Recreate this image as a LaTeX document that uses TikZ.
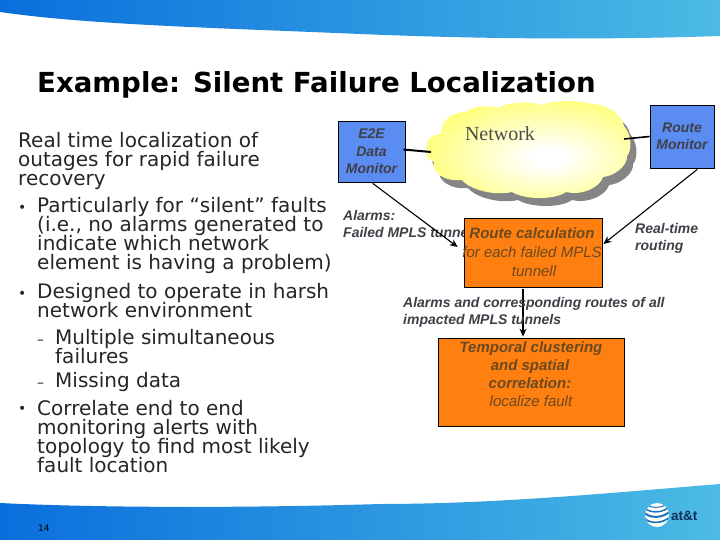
\documentclass[tikz,border=0pt]{standalone}
\usepackage{fontspec}
\setmainfont{DejaVu Sans}
\newfontfamily\arialf{Liberation Sans}
\newfontfamily\timesf{Liberation Serif}
\usetikzlibrary{arrows.meta,calc}
\normallineskiplimit=-20pt
\lineskiplimit=-20pt
\definecolor{bandL}{HTML}{0A6EDC}
\definecolor{bandR}{HTML}{4CBBE4}
\definecolor{boxblue}{HTML}{5B8CF2}
\definecolor{boxorange}{HTML}{FF7F10}
\definecolor{labgray}{HTML}{3F3F48}
\definecolor{orangetxt}{HTML}{6A4A1E}
\definecolor{cloudY}{HTML}{FFFF78}
\definecolor{shadowG}{HTML}{858585}
\definecolor{bodyc}{HTML}{262626}
\definecolor{attnavy}{HTML}{10305A}
\definecolor{globeblue}{HTML}{1E6FB8}
\pgfdeclareradialshading{cloudshade}{\pgfpoint{5bp}{-4bp}}{color(0bp)=(white); color(4bp)=(white); color(30bp)=(cloudY); color(100bp)=(cloudY)}
\tikzset{
  x=1pt,y=-1pt,
  bodytext/.style={anchor=base west,inner sep=0pt,align=left,font=\fontsize{20}{19}\selectfont,text=bodyc},
  bluebox/.style={draw=black,line width=0.7pt,fill=boxblue,inner sep=0pt,align=center,text=labgray,font=\arialf\fontsize{14}{17.5}\selectfont\bfseries\itshape},
  orangebox/.style={draw=black,line width=0.7pt,fill=boxorange,inner sep=0pt},
  lab/.style={anchor=base west,inner sep=0pt,align=left,text=labgray,font=\arialf\fontsize{14}{17}\selectfont\bfseries\itshape},
  otxt/.style={anchor=base,inner sep=0pt,text=orangetxt,font=\arialf\fontsize{15}{18}\selectfont\bfseries\itshape},
  otxtl/.style={anchor=base,inner sep=0pt,text=orangetxt,font=\arialf\fontsize{15}{18}\selectfont\itshape},
  thickln/.style={line width=2pt,black},
  arr/.style={line width=1.1pt,black,-{Stealth[length=8pt,width=7pt]}},
  bul/.style={anchor=base west,inner sep=0pt,text=bodyc,font=\fontsize{14}{14}\selectfont},
}
\newcommand{\cloudpath}{
 (427,150) .. controls (425,140) and (432,134) .. (441,134)
 .. controls (441,122) and (450,112) .. (466,112)
 .. controls (472,106) and (490,105) .. (498,108)
 .. controls (508,102) and (530,101) .. (542,105)
 .. controls (552,100) and (580,100) .. (592,104)
 .. controls (608,105) and (622,115) .. (624,126)
 .. controls (632,135) and (632,150) .. (627,156)
 .. controls (628,165) and (615,176) .. (603,177)
 .. controls (600,188) and (580,196) .. (566,192)
 .. controls (555,200) and (525,200) .. (512,192)
 .. controls (495,196) and (470,190) .. (462,180)
 .. controls (445,182) and (430,172) .. (434,162)
 .. controls (428,160) and (425,155) .. (427,150) -- cycle}
\begin{document}
\begin{tikzpicture}
\useasboundingbox (0,0) rectangle (720,540);
\fill[white] (0,0) rectangle (720,540);
% bands
\path[left color=bandL,right color=bandR]
  (0,0) -- (720,0) -- (720,36) .. controls (600,40) and (480,39) .. (360,34) .. controls (220,28) and (90,25) .. (0,12) -- cycle;
\path[left color=bandL,right color=bandR]
  (0,540) -- (720,540) -- (720,484) .. controls (620,492) and (500,504) .. (380,504) .. controls (250,508) and (100,508) .. (0,503) -- cycle;
% title
\node[anchor=base west,inner sep=0pt,font=\fontsize{27.6}{27.6}\selectfont\bfseries] (title) at (37,93) {Example: Silent Failure Localization};
% body (a many-line node is placed by the baseline of its last line)
\node[bodytext] (b1) at (18,186) {Real time localization of\\outages for rapid failure\\recovery};
\node[bul] (bu1) at (18,213) {•};
\node[bodytext] (b2) at (37,269) {Particularly for “silent” faults\\(i.e., no alarms generated to\\indicate which network\\element is having a problem)};
\node[bul] (bu2) at (18,298) {•};
\node[bodytext] (b3) at (37,317) {Designed to operate in harsh\\network environment};
\node[bul] (da1) at (37,344) {–};
\node[bodytext] (b4) at (55,363) {Multiple simultaneous\\failures};
\node[bul] (da2) at (37,387) {–};
\node[bodytext] (b5) at (55,387) {Missing data};
\node[bul] (bu3) at (18,413) {•};
\node[bodytext] (b6) at (37,472) {Correlate end to end\\monitoring alerts with\\topology to find most likely\\fault location};
\node[anchor=base west,inner sep=0pt,font=\fontsize{9}{9}\selectfont] (pg) at (38,531) {14};
% cloud
\fill[shadowG,xshift=6pt,yshift=-8pt] \cloudpath;
\path[shading=cloudshade] \cloudpath;
\node[anchor=base,inner sep=0pt,font=\timesf\fontsize{20}{20}\selectfont,text=black!70] (net) at (500,141) {Network};
\coordinate (cloudW) at (431,152);
\coordinate (cloudE) at (624,139);
% labels under the boxes
\node[lab] (l1) at (343,237) {Alarms:\\Failed MPLS tunnel};
\node[lab] (l2) at (635,250) {Real-time\\routing};
% boxes
\node[bluebox,minimum width=67pt,minimum height=61pt] (e2e) at (371.5,151.5) {E2E\\Data\\Monitor};
\node[bluebox,minimum width=64pt,minimum height=63pt] (rm) at (682,136.5) {Route\\Monitor};
\node[orangebox,minimum width=138pt,minimum height=69pt] (rc) at (533,252.5) {};
\node[orangebox,minimum width=186pt,minimum height=88pt] (tc) at (531,382) {};
% connectors
\draw[thickln] ($(e2e.east)+(-2,-2)$) -- (cloudW);
\draw[line width=1.6pt] (cloudE) -- (rm.west);
\draw[arr] ($(e2e.south west)+(35,1)$) -- ($(rc.west)+(-6,-5.5)$);
\draw[arr] ($(rm.south east)+(-17,1)$) -- ($(rc.east)+(1,-8.5)$);
\draw[arr] ($(rc.south)+(-10,2)$) -- ($(tc.north)+(-8,-1)$);
\node[lab] (l3) at (403,324) {Alarms and corresponding routes of all\\impacted MPLS tunnels};
% box text
\node[otxt] (r1) at (532,239) {Route calculation};
\node[otxtl] (r2) at (532,257) {for each failed MPLS};
\node[otxtl] (r3) at (534,276) {tunnell};
\node[otxt] (t1) at (531,352) {Temporal clustering};
\node[otxt] (t2) at (530,370) {and spatial};
\node[otxt] (t3) at (530,388) {correlation:};
\node[otxtl] (t4) at (531,406) {localize fault};
% logo
\fill[white] (657,515) circle (12);
\begin{scope}
\clip (657,515) circle (12);
\foreach \yy/\w in {506/1.0,510.5/1.5,515.5/2,521/1.6}{
  \draw[globeblue,line width=\w pt] (644,\yy-3) .. controls (650,\yy+3) and (662,\yy+3) .. (670,\yy-4);
}
\end{scope}
\node[anchor=base west,inner sep=0pt,text=attnavy,font=\arialf\fontsize{13.5}{13.5}\selectfont\bfseries] (att) at (671,520) {at\&t};
\end{tikzpicture}
\end{document}
